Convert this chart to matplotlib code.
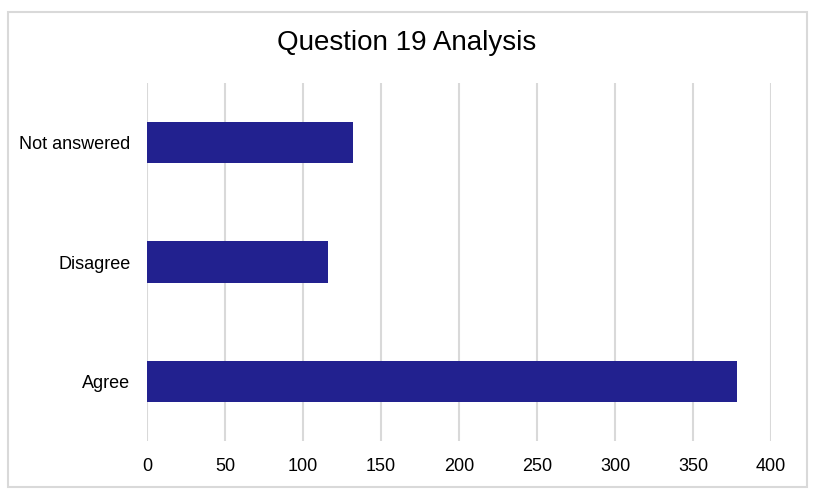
import matplotlib.pyplot as plt
from matplotlib.patches import Rectangle

plt.rcParams['font.family'] = ['Liberation Sans', 'DejaVu Sans']

categories = ["Agree", "Disagree", "Not answered"]
counts = [378, 116, 132]
xticks = [0, 50, 100, 150, 200, 250, 300, 350, 400]

fig = plt.figure(figsize=(8.23, 4.98), dpi=100)
W, H = 823, 498
ax = fig.add_axes([147 / W, 1 - 441 / H, (771 - 147) / W, (441 - 83) / H])

ax.barh(range(len(categories)), counts, height=0.345, color='#22218f', zorder=3)
ax.set_xlim(0, 400)
ax.set_ylim(-0.5, 2.5)
ax.set_xticks(xticks)
ax.set_yticks(range(len(categories)))
ax.set_yticklabels(categories)
ax.grid(axis='x', color='#d9d9d9', linewidth=1.5, zorder=0)
for s in ax.spines.values():
    s.set_visible(False)
ax.tick_params(axis='both', length=0, labelsize=13, colors='black')
ax.tick_params(axis='x', pad=12)
ax.tick_params(axis='y', pad=12)

fig.text(407 / W, 1 - 43 / H, "Question 19 Analysis", ha='center', va='center', fontsize=20)

# outer chart border
fig.patches.append(Rectangle((8 / W, 1 - 487 / H), (807 - 8) / W, (487 - 12) / H,
                             transform=fig.transFigure, fill=False,
                             edgecolor='#d9d9d9', linewidth=1.5))

plt.savefig('out.png', dpi=100)
